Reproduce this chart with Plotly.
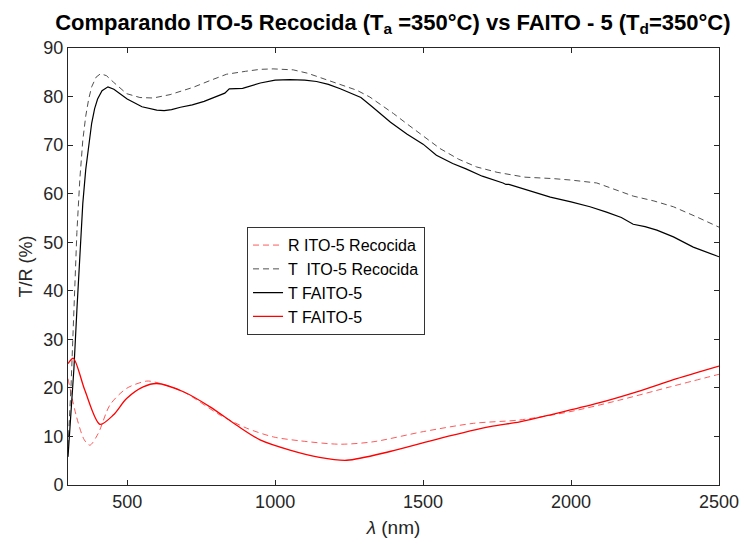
import plotly.graph_objects as go

# Wavelength (nm) and transmittance / reflectance (%) readings
wl_t_faito = [300, 310, 320, 330, 340, 350, 360, 370, 380, 390, 400, 415, 435, 455, 480, 500,
              550, 600, 625, 650, 680, 720, 760, 800, 830, 845, 890, 950, 1000, 1050, 1100,
              1140, 1180, 1220, 1260, 1290, 1330, 1390, 1445, 1500, 1545, 1600, 1645, 1700,
              1770, 1780, 1790, 1830, 1880, 1930, 2000, 2064, 2120, 2170, 2210, 2250, 2290,
              2346, 2413, 2460, 2500]
t_faito = [5.8, 14, 24, 36, 48, 58, 65, 70, 74.5, 77.5, 79.5, 81.2, 82.0, 81.5, 80.4, 79.5,
           77.9, 77.2, 77.1, 77.3, 77.8, 78.3, 79.0, 80.0, 80.7, 81.6, 81.7, 82.8, 83.4, 83.5,
           83.4, 83.1, 82.5, 81.6, 80.6, 79.8, 77.8, 74.7, 72.3, 70.2, 67.9, 66.2, 65.1, 63.6,
           62.2, 61.9, 61.9, 61.2, 60.2, 59.3, 58.3, 57.3, 56.2, 55.1, 53.7, 53.2, 52.5, 51.1,
           49.0, 48.0, 47.0]

wl_t_ito = [300, 310, 320, 330, 340, 350, 360, 370, 380, 395, 410, 430, 453, 475, 498, 543,
            588, 645, 723, 780, 836, 900, 949, 993, 1061, 1110, 1163, 1220, 1276, 1320, 1354,
            1400, 1445, 1500, 1557, 1620, 1681, 1750, 1800, 1844, 1940, 2000, 2087, 2154,
            2210, 2280, 2346, 2425, 2500]
t_ito = [8, 20, 36, 52, 63, 71, 76, 79.5, 82, 84, 84.7, 84.3, 83.0, 81.8, 80.6, 79.8, 79.7,
         80.4, 81.9, 83.3, 84.6, 85.2, 85.6, 85.7, 85.5, 84.8, 83.7, 82.6, 81.3, 79.9, 78.5,
         76.5, 74.4, 71.8, 69.3, 67.1, 65.5, 64.4, 63.8, 63.4, 63.1, 62.8, 62.2, 60.7, 59.5,
         58.5, 57.3, 55.2, 53.1]

wl_r_ito = [300, 329, 355, 374, 402, 442, 498, 566, 600, 690, 814, 904, 994, 1084, 1219,
            1331, 1501, 1670, 1827, 1996, 2165, 2334, 2500]
r_ito = [21.9, 14.0, 9.3, 8.2, 10.6, 16.5, 19.9, 21.4, 21.1, 19.2, 14.4, 11.7, 9.9, 9.1,
         8.4, 8.9, 11.0, 12.7, 13.4, 15.1, 17.5, 20.2, 22.8]

wl_r_faito = [300, 318, 357, 408, 453, 498, 554, 600, 690, 780, 870, 949, 1050, 1150, 1242,
              1388, 1557, 1726, 1827, 1940, 2087, 2222, 2357, 2500]
r_faito = [25.0, 26.1, 19.5, 12.5, 14.4, 17.8, 20.2, 20.9, 19.2, 16.1, 12.3, 9.3, 7.2, 5.7,
           5.1, 6.9, 9.6, 12.0, 13.0, 14.6, 16.8, 19.2, 21.9, 24.5]

x_ticks = [500, 1000, 1500, 2000, 2500]
y_ticks = list(range(0, 100, 10))

AX = "#262626"
FONT = "Liberation Sans, Arial, sans-serif"

fig = go.Figure()
fig.add_trace(go.Scatter(x=wl_r_ito, y=r_ito, mode="lines", name="R ITO-5 Recocida",
                         line=dict(color="rgba(255,60,60,0.85)", width=1, dash="6px,4px",
                                   shape="spline", smoothing=0.8)))
fig.add_trace(go.Scatter(x=wl_t_ito, y=t_ito, mode="lines", name="T  ITO-5 Recocida",
                         line=dict(color="#505050", width=1, dash="6px,4px")))
fig.add_trace(go.Scatter(x=wl_t_faito, y=t_faito, mode="lines", name="T FAITO-5",
                         line=dict(color="#000000", width=1.2)))
fig.add_trace(go.Scatter(x=wl_r_faito, y=r_faito, mode="lines", name="T FAITO-5",
                         line=dict(color="#ff0000", width=1.3, shape="spline", smoothing=0.8)))

axis_common = dict(showline=True, linecolor=AX, linewidth=1, mirror="ticks",
                   ticks="inside", ticklen=5, tickcolor=AX, showgrid=False, zeroline=False,
                   automargin=False,
                   tickfont=dict(family=FONT, size=18, color=AX))

fig.update_layout(
    width=744, height=545,
    margin=dict(l=68, r=25, t=48, b=60, autoexpand=False),
    plot_bgcolor="white", paper_bgcolor="white",
    title=dict(text="<b>Comparando ITO-5 Recocida (T<sub>a</sub> =350°C) vs FAITO - 5 (T<sub>d</sub>=350°C)</b>",
               x=0.528, xanchor="center", y=0.96, yanchor="middle",
               font=dict(family=FONT, size=22, color="#000000")),
    xaxis=dict(range=[300, 2500], tickvals=x_ticks,
               title=dict(text="<i>λ</i> (nm)", font=dict(family=FONT, size=19, color=AX),
                          standoff=10),
               **axis_common),
    yaxis=dict(range=[0, 90], tickvals=y_ticks,
               title=dict(text="T/R (%)", font=dict(family=FONT, size=18, color=AX),
                          standoff=6),
               **axis_common),
    legend=dict(x=0.275, y=0.59, xanchor="left", yanchor="top",
                bgcolor="white", bordercolor="#333333", borderwidth=1,
                font=dict(family=FONT, size=16, color="#000000"),
                itemwidth=30, tracegroupgap=0),
    showlegend=True,
)

fig.write_html("out.html")
